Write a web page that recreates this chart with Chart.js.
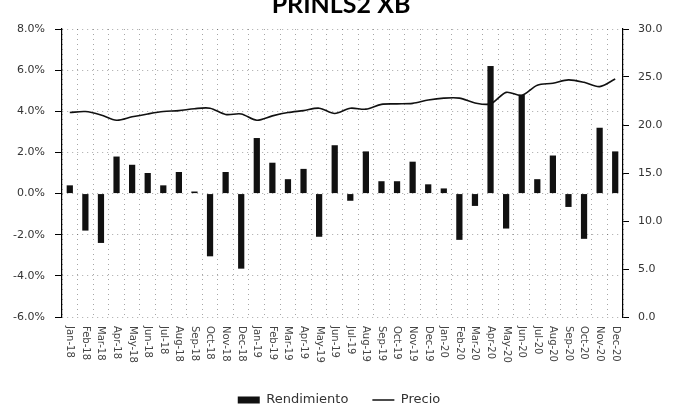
<!DOCTYPE html>
<html>
<head>
<meta charset="utf-8">
<script src="https://cdn.jsdelivr.net/npm/chart.js@4"></script>
<style>
  html, body { margin: 0; padding: 0; background: #fff; }
  canvas { display: block; }
</style>
</head>
<body>
<canvas id="chart" width="678" height="407"></canvas>
<script>
// ─── Data ────────────────────────────────────────────────
const chartTitle = 'PRINLS2 XB';

const months = [
  'Jan-18','Feb-18','Mar-18','Apr-18','May-18','Jun-18','Jul-18','Aug-18','Sep-18','Oct-18','Nov-18','Dec-18',
  'Jan-19','Feb-19','Mar-19','Apr-19','May-19','Jun-19','Jul-19','Aug-19','Sep-19','Oct-19','Nov-19','Dec-19',
  'Jan-20','Feb-20','Mar-20','Apr-20','May-20','Jun-20','Jul-20','Aug-20','Sep-20','Oct-20','Nov-20','Dec-20'
];

// monthly return, %
const rendimiento = [
  0.4, -1.8, -2.4, 1.8, 1.4, 1.0, 0.4, 1.05, 0.1, -3.05, 1.05, -3.65,
  2.7, 1.5, 0.7, 1.2, -2.1, 2.35, -0.35, 2.05, 0.6, 0.6, 1.55, 0.45,
  0.25, -2.25, -0.6, 6.2, -1.7, 4.8, 0.7, 1.85, -0.65, -2.2, 3.2, 2.05
];

// price
const precio = [
  21.3, 21.4, 21.05, 20.5, 20.85, 21.15, 21.4, 21.5, 21.7, 21.75, 21.1, 21.15,
  20.5, 20.95, 21.3, 21.5, 21.75, 21.2, 21.75, 21.65, 22.15, 22.2, 22.25, 22.6,
  22.8, 22.8, 22.3, 22.2, 23.4, 23.1, 24.15, 24.35, 24.7, 24.45, 24.0, 24.8
];

const leftTicks  = [-6, -4, -2, 0, 2, 4, 6, 8];
const rightTicks = [0, 5, 10, 15, 20, 25, 30];

// ─── Style ───────────────────────────────────────────────
const INK = '#111';
const GRID = 'rgba(0,0,0,0.35)';
const TICK_FONT = { family: 'DejaVu Sans', size: 11 };

// title sits partly above the canvas edge, like the reference
const titlePlugin = {
  id: 'cutTitle',
  afterDraw(chart) {
    const ctx = chart.ctx;
    ctx.save();
    ctx.font = 'bold 25px Lato';
    ctx.fillStyle = '#000';
    ctx.textAlign = 'center';
    ctx.textBaseline = 'alphabetic';
    ctx.fillText(chartTitle, 341, 13);
    ctx.restore();
  }
};

// month labels read top-to-bottom (rotated clockwise)
const monthLabels = {
  id: 'monthLabels',
  afterDraw(chart) {
    const x = chart.scales.x;
    const ctx = chart.ctx;
    ctx.save();
    ctx.font = '10px "DejaVu Sans"';
    ctx.fillStyle = '#444';
    ctx.textAlign = 'left';
    ctx.textBaseline = 'middle';
    months.forEach((m, i) => {
      ctx.save();
      ctx.translate(x.getPixelForValue(i), chart.chartArea.bottom + 9);
      ctx.rotate(Math.PI / 2);
      ctx.fillText(m, 0, 0);
      ctx.restore();
    });
    ctx.restore();
  }
};

new Chart(document.getElementById('chart'), {
  type: 'bar',
  data: {
    labels: months,
    datasets: [
      {
        label: 'Rendimiento',
        data: rendimiento,
        yAxisID: 'y',
        backgroundColor: INK,
        borderWidth: 0,
        barPercentage: 0.4,
        categoryPercentage: 1,
        pointStyle: 'rect',
        order: 2,
      },
      {
        type: 'line',
        label: 'Precio',
        data: precio,
        yAxisID: 'y1',
        borderColor: INK,
        backgroundColor: INK,
        borderWidth: 1.6,
        pointRadius: 0,
        pointStyle: 'line',
        tension: 0.3,
        fill: false,
        order: 1,
      },
    ],
  },
  options: {
    responsive: false,
    devicePixelRatio: 1,
    animation: false,
    layout: { padding: { top: 29, left: 0, right: 0, bottom: -9.5 } },
    plugins: {
      title: { display: false },
      tooltip: { enabled: false },
      legend: {
        position: 'bottom',
        labels: {
          usePointStyle: true,
          pointStyleWidth: 22,
          boxHeight: 7,
          padding: 24,
          color: '#333',
          font: { family: 'DejaVu Sans', size: 13 },
          sort: (a, b) => a.datasetIndex - b.datasetIndex,
        },
      },
    },
    scales: {
      x: {
        offset: true,
        grid: { color: GRID, drawTicks: false, offset: true },
        border: { display: false, dash: [1, 4] },
        ticks: { display: false },
        afterFit: (s) => { s.height = 52.5; },
      },
      y: {
        position: 'left',
        min: -6,
        max: 8,
        afterBuildTicks: (s) => { s.ticks = leftTicks.map(v => ({ value: v })); },
        afterFit: (s) => { s.width = 62; },
        grid: { color: GRID, tickColor: '#000', tickLength: 7 },
        border: { display: true, color: '#000', width: 1.2, dash: [1, 4] },
        ticks: {
          color: '#333',
          font: TICK_FONT,
          padding: 10,
          callback: (v) => v.toFixed(1) + '%',
        },
      },
      y1: {
        position: 'right',
        min: 0,
        max: 30,
        afterBuildTicks: (s) => { s.ticks = rightTicks.map(v => ({ value: v })); },
        afterFit: (s) => { s.width = 55; },
        grid: { drawOnChartArea: false, tickColor: '#000', tickLength: 6 },
        border: { display: true, color: '#000', width: 1.2 },
        ticks: {
          color: '#333',
          font: TICK_FONT,
          padding: 9,
          callback: (v) => v.toFixed(1),
        },
      },
    },
  },
  plugins: [titlePlugin, monthLabels],
});
</script>
</body>
</html>
